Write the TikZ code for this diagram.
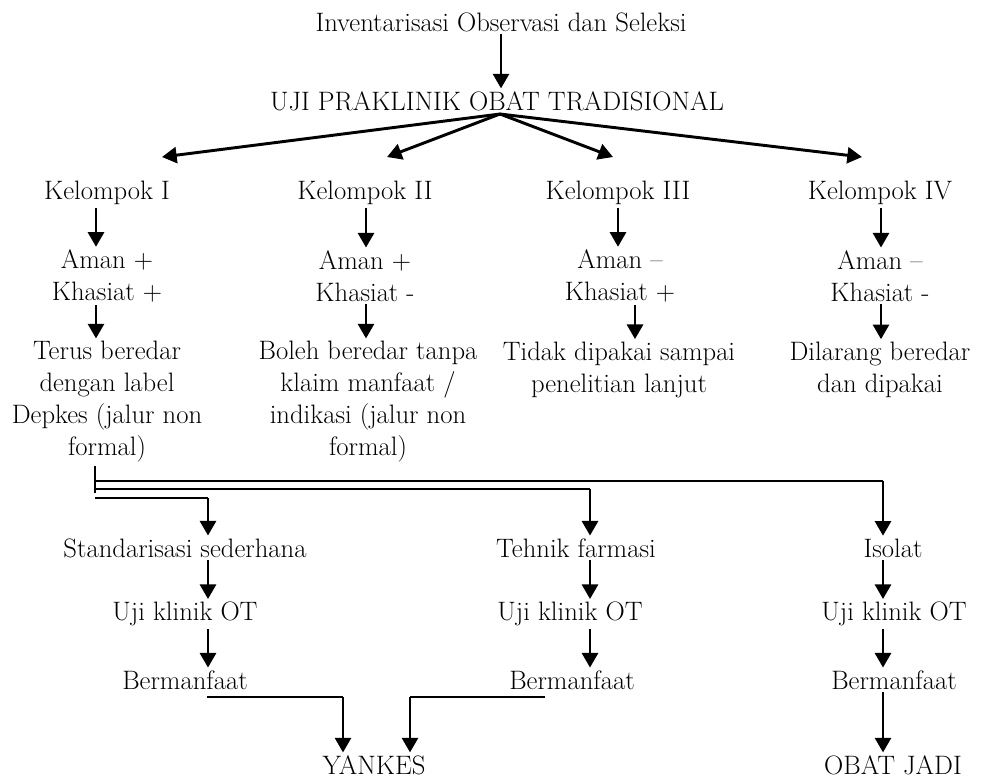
\documentclass[tikz,border=0pt]{standalone}
\usetikzlibrary{arrows.meta}

\tikzset{
  lbl/.style={align=center, inner xsep=0pt, inner ysep=2pt, font=\fontsize{20}{24}\selectfont},
  arr/.style={line width=2.2pt, -{Triangle[length=11pt,width=12pt]}},
  ln/.style={line width=1.4pt},
}

\begin{document}
\begin{tikzpicture}[x=0.75pt,y=-0.75pt]
\useasboundingbox (0,0) rectangle (996,779);
% top
\node[lbl] (inv) at (501,22) {Inventarisasi Observasi dan Seleksi};
\node[lbl] (uji) at (497,101) {UJI PRAKLINIK OBAT TRADISIONAL};
\draw[arr] (inv.south) -- (inv.south |- uji.north);
% kelompok
\node[lbl] (k1) at (107,193) {Kelompok I};
\node[lbl] (k2) at (365,193) {Kelompok II};
\node[lbl] (k3) at (618,193) {Kelompok III};
\node[lbl] (k4) at (880,193) {Kelompok IV};
\coordinate (p0) at (500,114);
\coordinate (p1) at (162,157);
\coordinate (p2) at (387,157);
\coordinate (p3) at (613,157);
\coordinate (p4) at (862,157);
\foreach \p in {p1,p2,p3,p4}
  \draw[arr] (p0) -- (\p);
\node[lbl] (a1) at (107,276) {Aman +\\Khasiat +};
\node[lbl] (a2) at (365,276) {Aman +\\Khasiat -};
\node[lbl] (a3) at (620,276) {Aman --\\Khasiat +};
\node[lbl] (a4) at (880,276) {Aman --\\Khasiat -};
\node[lbl] (t1) at (107,402) {Terus beredar\\dengan label\\Depkes (jalur non\\formal)};
\node[lbl] (t2) at (368,402) {Boleh beredar tanpa\\klaim manfaat /\\indikasi (jalur non\\formal)};
\node[lbl] (t3) at (619,370) {Tidak dipakai sampai\\penelitian lanjut};
\node[lbl] (t4) at (880,370) {Dilarang beredar\\dan dipakai};
\coordinate (q1) at (96,0);
\coordinate (q2) at (366,0);
\coordinate (q3) at (618,0);
\coordinate (r3) at (635,0);
\coordinate (q4) at (881,0);
\draw[arr] (k1.south -| q1) -- (a1.north -| q1);
\draw[arr] (k2.south -| q2) -- (a2.north -| q2);
\draw[arr] (k3.south -| q3) -- (a3.north -| q3);
\draw[arr] (k4.south -| q4) -- (a4.north -| q4);
\draw[arr] (a1.south -| q1) -- (t1.north -| q1);
\draw[arr] (a2.south -| q2) -- (t2.north -| q2);
\draw[arr] (a3.south -| r3) -- (t3.north -| r3);
\draw[arr] (a4.south -| q4) -- (t4.north -| q4);
% jalur lanjut
\node[lbl] (s1) at (185,548) {Standarisasi sederhana};
\node[lbl] (s2) at (576,548) {Tehnik farmasi};
\node[lbl] (s3) at (893,548) {Isolat};
\node[lbl] (u1) at (185,614) {Uji klinik OT};
\node[lbl] (u2) at (570,614) {Uji klinik OT};
\node[lbl] (u3) at (894,614) {Uji klinik OT};
\node[lbl] (m1) at (185,680) {Bermanfaat};
\node[lbl] (m2) at (572,680) {Bermanfaat};
\node[lbl] (m3) at (894,680) {Bermanfaat};
\node[lbl] (yk) at (374,765) {YANKES};
\node[lbl] (oj) at (893,765) {OBAT JADI};
\coordinate (j) at (95,493);
\coordinate (h1) at (95,481);
\coordinate (h2) at (95,489);
\coordinate (h3) at (95,498);
\coordinate (c1) at (883,481);
\coordinate (c2) at (590,489);
\coordinate (c3) at (208,498);
\draw[ln] (t1.south -| j) -- (j);
\draw[ln] (h1) -- (c1);
\draw[ln] (h2) -- (c2);
\draw[ln] (h3) -- (c3);
\draw[arr] (c1) -- (s3.north -| c1);
\draw[arr] (c2) -- (s2.north -| c2);
\draw[arr] (c3) -- (s1.north -| c3);
\draw[arr] (s1.south -| c3) -- (u1.north -| c3);
\draw[arr] (s2.south -| c2) -- (u2.north -| c2);
\draw[arr] (s3.south -| c1) -- (u3.north -| c1);
\draw[arr] (u1.south -| c3) -- (m1.north -| c3);
\draw[arr] (u2.south -| c2) -- (m2.north -| c2);
\draw[arr] (u3.south -| c1) -- (m3.north -| c1);
\draw[arr] (m3.south -| c1) -- (oj.north -| c1);
% ke yankes
\coordinate (b1) at (207,697);
\coordinate (y1) at (343,697);
\coordinate (b2) at (545,697);
\coordinate (y2) at (410,697);
\draw[ln] (b1) -- (y1);
\draw[ln] (b2) -- (y2);
\draw[arr] (y1) -- (yk.north -| y1);
\draw[arr] (y2) -- (yk.north -| y2);
\end{tikzpicture}
\end{document}
